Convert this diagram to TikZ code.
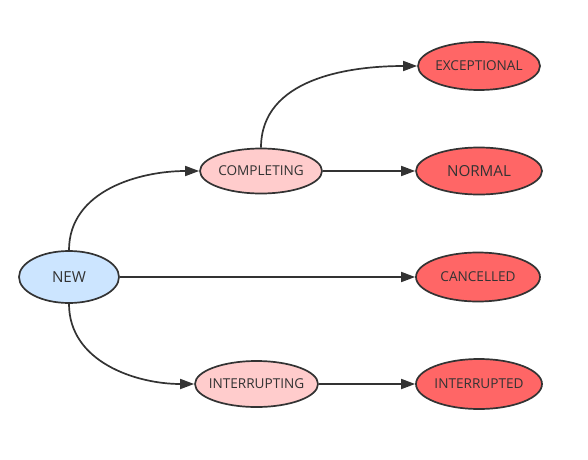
\documentclass[tikz,border=0pt]{standalone}
\usepackage{fontspec}
\setmainfont{Open Sans}
\usepackage{tikz}
\usetikzlibrary{shapes.geometric,arrows.meta}

\definecolor{linegray}{HTML}{333333}
\definecolor{newblue}{HTML}{CCE5FF}
\definecolor{midpink}{HTML}{FFCCCC}
\definecolor{endred}{HTML}{FF6666}

\begin{document}
\begin{tikzpicture}[x=1pt,y=1pt,
	state/.style={ellipse,draw=linegray,line width=1.7pt,inner xsep=-10pt,inner ysep=0pt,text=linegray},
	trans/.style={draw=linegray,line width=1.7pt,-{Triangle[length=14pt,width=10pt]}}]
	\def\small#1{\fontsize{13.6}{15}\selectfont #1}
	\def\big#1{\fontsize{15.2}{17}\selectfont #1}
	\useasboundingbox (0,0) rectangle (588,459);
	% start state
	\node[state,fill=newblue,minimum width=100pt,minimum height=52pt] (new) at (69,182) {\big{NEW}};
	% intermediate states
	\node[state,fill=midpink,minimum width=122pt,minimum height=45pt] (completing) at (261,288) {\small{COMPLETING}};
	\node[state,fill=midpink,minimum width=123pt,minimum height=46pt] (interrupting) at (256.5,75) {\small{INTERRUPTING}};
	% final states
	\node[state,fill=endred,minimum width=122pt,minimum height=48pt] (exceptional) at (479,393) {\small{EXCEPTIONAL}};
	\node[state,fill=endred,minimum width=126pt,minimum height=47pt] (normal) at (479,288) {\big{NORMAL}};
	\node[state,fill=endred,minimum width=124pt,minimum height=49pt] (cancelled) at (478,182) {\small{CANCELLED}};
	\node[state,fill=endred,minimum width=126pt,minimum height=50pt] (interrupted) at (479,75) {\small{INTERRUPTED}};
	% transitions
	\draw[trans] (new.north) to[out=90,in=180] (completing.west);
	\draw[trans] (completing.north) to[out=90,in=180] (exceptional.west);
	\draw[trans] (completing.east) -- (normal.west);
	\draw[trans] (new.east) -- (cancelled.west);
	\draw[trans] (new.south) to[out=-90,in=180] (interrupting.west);
	\draw[trans] (interrupting.east) -- (interrupted.west);
\end{tikzpicture}
\end{document}
